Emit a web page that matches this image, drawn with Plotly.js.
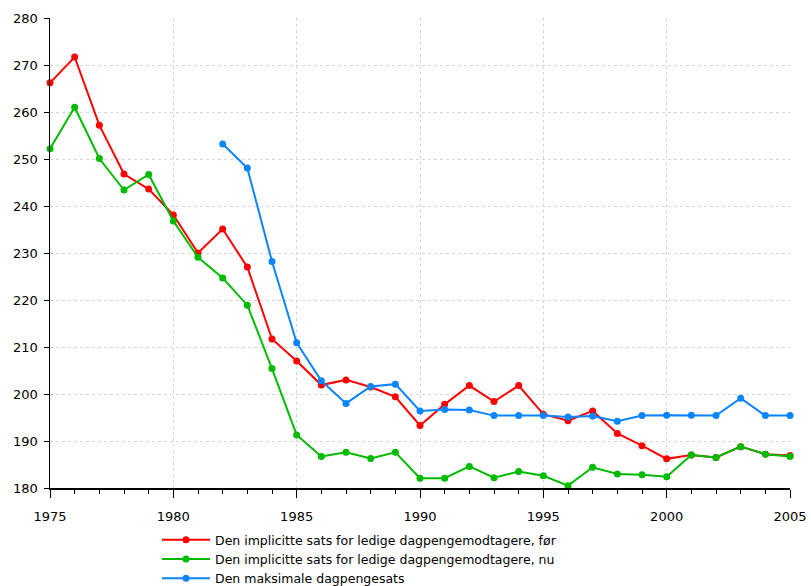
<!DOCTYPE html>
<html>
<head>
<meta charset="utf-8">
<script src="https://cdn.plot.ly/plotly-3.0.1.min.js"></script>
<style>html,body{margin:0;padding:0;background:#fff;}#chart{width:811px;height:586px;}</style>
</head>
<body>
<div id="chart"></div>
<script>
const years = [1975,1976,1977,1978,1979,1980,1981,1982,1983,1984,1985,1986,1987,1988,1989,1990,1991,1992,1993,1994,1995,1996,1997,1998,1999,2000,2001,2002,2003,2004,2005];
const foer = [266.2,271.7,257.2,246.8,243.6,238.1,230.0,235.1,227.0,211.7,207.0,201.9,203.0,201.5,199.4,193.3,197.8,201.8,198.4,201.8,195.7,194.3,196.4,191.6,189.0,186.2,187.0,186.5,188.8,187.2,186.9];
const nu = [252.2,261.0,250.1,243.4,246.7,236.8,229.1,224.7,218.9,205.4,191.3,186.7,187.6,186.3,187.6,182.1,182.1,184.6,182.2,183.5,182.6,180.5,184.4,183.0,182.8,182.4,187.0,186.5,188.8,187.2,186.7];
const maksYears = [1982,1983,1984,1985,1986,1987,1988,1989,1990,1991,1992,1993,1994,1995,1996,1997,1998,1999,2000,2001,2002,2003,2004,2005];
const maks = [253.2,248.1,228.2,210.9,202.8,198.0,201.6,202.1,196.4,196.7,196.6,195.4,195.4,195.4,195.1,195.3,194.2,195.4,195.5,195.5,195.4,199.1,195.4,195.4];
const names = ["Den implicitte sats for ledige dagpengemodtagere, før","Den implicitte sats for ledige dagpengemodtagere, nu","Den maksimale dagpengesats"];
const colors = ["#ff0000","#00bb00","#0a84ff"];

function tr(x, y, i) {
  return {x: x, y: y, name: names[i], type: "scatter", mode: "lines+markers",
    line: {color: colors[i], width: 2}, marker: {color: colors[i], size: 7},
    cliponaxis: false};
}
const data = [tr(years, foer, 0), tr(years, nu, 1), tr(maksYears, maks, 2)];
const layout = {
  width: 811, height: 586,
  margin: {l: 50, r: 21, t: 18, b: 98, autoexpand: false},
  paper_bgcolor: "#fff", plot_bgcolor: "#fff",
  font: {family: "DejaVu Sans, Verdana, sans-serif", size: 13, color: "#000"},
  showlegend: true,
  legend: {x: (157 - 50) / 740, xanchor: "left", y: -(525 - 488) / 470, yanchor: "top",
    orientation: "v", itemwidth: 48,
    font: {size: 12.5}, bgcolor: "rgba(0,0,0,0)", tracegroupgap: 0},
  xaxis: {range: [1975, 2005], dtick: 5, tick0: 1975, ticks: "outside", ticklen: 8, tickcolor: "#000",
    ticklabelstandoff: 8,
    showline: true, linecolor: "#000", linewidth: 1.5, zeroline: false,
    showgrid: true, gridcolor: "#d6d6d6", griddash: "dot", gridwidth: 1,
    minor: {dtick: 1, ticks: "outside", ticklen: 4, tickcolor: "#000", showgrid: false},
    tickfont: {size: 13}},
  yaxis: {range: [180, 280], dtick: 10, ticks: "outside", ticklen: 5, tickcolor: "#000",
    ticklabelstandoff: 3,
    showline: true, linecolor: "#000", linewidth: 1.5, zeroline: false,
    showgrid: true, gridcolor: "#d6d6d6", griddash: "dot", gridwidth: 1,
    tickfont: {size: 13}}
};
Plotly.newPlot("chart", data, layout, {displayModeBar: false, staticPlot: true});
</script>
</body>
</html>
